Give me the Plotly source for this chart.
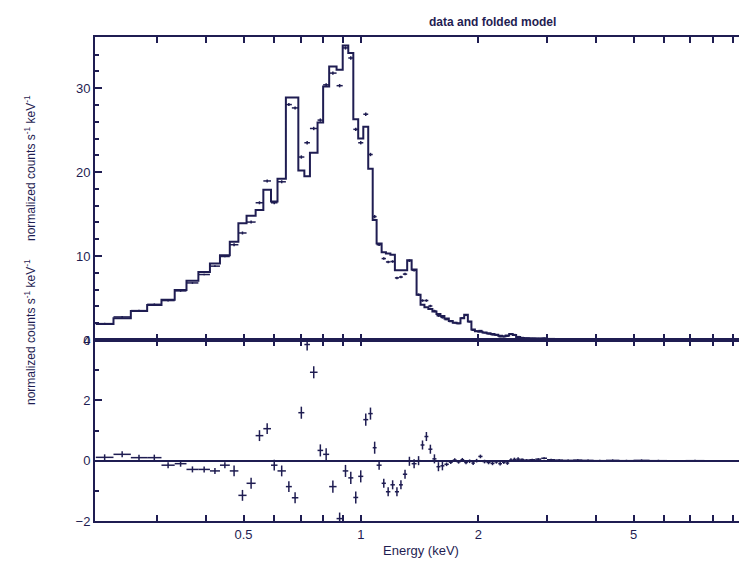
import numpy as np
import plotly.graph_objects as go

# ---------------- data ----------------
# energy bin edges (keV)
edges = [0.209, 0.232, 0.257, 0.283, 0.308, 0.333, 0.357, 0.383, 0.410, 0.435,
         0.461, 0.485, 0.509, 0.537, 0.562, 0.588, 0.611, 0.642, 0.665, 0.691,
         0.716, 0.740, 0.774, 0.800, 0.829, 0.866, 0.898, 0.928, 0.956, 0.984,
         1.014, 1.044, 1.072, 1.097, 1.130, 1.159, 1.190, 1.222, 1.252, 1.281,
         1.314, 1.349, 1.389, 1.422, 1.455, 1.489, 1.525, 1.562, 1.599, 1.637,
         1.68, 1.72, 1.76, 1.80, 1.84, 1.88, 1.92, 1.96, 2.00, 2.05,
         2.10, 2.15, 2.20, 2.25, 2.30, 2.35, 2.40, 2.45, 2.50, 2.56,
         2.62, 2.70, 2.80, 2.90, 3.00, 3.15, 3.30, 3.50, 3.70, 3.95,
         4.25, 4.60, 5.00, 5.50, 6.10, 6.80, 7.60]

# folded model (normalized counts s^-1 keV^-1)
model = [1.9, 2.6, 3.45, 4.17, 4.8, 5.95, 7.06, 8.1, 9.1, 10.1,
         11.7, 13.9, 14.8, 15.5, 17.9, 16.5, 19.2, 28.9, 28.9, 20.2,
         19.5, 22.3, 25.9, 30.2, 32.6, 32.2, 35.1, 34.2, 26.3, 24.0,
         25.4, 20.4, 14.3, 11.5, 10.45, 10.3, 10.15, 8.3, 8.3, 8.3,
         9.5, 8.4, 5.4, 4.2, 3.9, 3.7, 3.4, 3.1, 2.85,
         2.55, 2.25, 2.05, 2.0, 2.6, 3.0, 2.2, 1.25, 1.05, 0.98,
         0.9, 0.8, 0.72, 0.62, 0.5, 0.45, 0.55, 0.72, 0.6, 0.35,
         0.25, 0.2, 0.18, 0.16, 0.15, 0.13, 0.12, 0.1, 0.09, 0.08,
         0.07, 0.06, 0.05, 0.04, 0.03, 0.025, 0.02]

# observed data
data = [1.95, 2.75, 3.5, 4.25, 4.7, 5.85, 6.8, 7.8, 8.8, 9.95,
        11.35, 12.75, 14.05, 16.35, 18.95, 16.35, 18.85, 28.05, 27.65, 21.8,
        23.5, 25.2, 26.2, 30.4, 31.8, 30.3, 34.8, 33.6, 25.1, 23.5,
        26.9, 22.1, 14.7, 11.35, 9.7, 9.3, 9.35, 7.4, 7.5, 7.85,
        9.45, 8.3, 5.4, 4.7, 4.7, 4.05, 3.45, 2.9, 2.7,
        2.43, 2.2, 2.07, 1.96, 2.63, 2.94, 2.18, 1.17, 1.05, 1.12,
        0.87, 0.74, 0.63, 0.58, 0.4, 0.4, 0.47, 0.74, 0.64, 0.4,
        0.29, 0.22, 0.21, 0.21, 0.23, 0.16, 0.14, 0.11, 0.11, 0.09,
        0.07, 0.07, 0.05, 0.05, 0.03, 0.015, 0.02]

# 1-sigma errors of the data
sigma = [0.1, 0.1, 0.1, 0.1, 0.1, 0.1, 0.1, 0.1, 0.1, 0.1,
         0.18, 0.18, 0.18, 0.18, 0.18, 0.18, 0.18, 0.18, 0.18, 0.2,
         0.2, 0.2, 0.2, 0.2, 0.2, 0.2, 0.2, 0.2, 0.2, 0.2,
         0.2, 0.2, 0.2, 0.15, 0.15, 0.15, 0.15, 0.15, 0.15, 0.15,
         0.15, 0.15, 0.15, 0.15, 0.15, 0.15, 0.15, 0.15, 0.15,
         0.06, 0.06, 0.06, 0.06, 0.06, 0.06, 0.06, 0.06, 0.06, 0.06,
         0.06, 0.06, 0.06, 0.06, 0.06, 0.06, 0.06, 0.06, 0.06, 0.06,
         0.03, 0.03, 0.03, 0.03, 0.03, 0.03, 0.03, 0.03, 0.03, 0.03,
         0.03, 0.03, 0.03, 0.03, 0.03, 0.03, 0.03]

# residuals (data - model)
resid = [0.11, 0.21, 0.10, 0.10, -0.15, -0.10, -0.29, -0.29, -0.34, -0.15,
         -0.34, -1.15, -0.75, 0.83, 1.06, -0.15, -0.34, -0.86, -1.23, 1.59,
         3.85, 2.93, 0.34, 0.21, -0.86, -1.92, -0.34, -0.57, -1.22, -0.52,
         1.36, 1.56, 0.43, -0.15, -0.75, -1.03, -0.80, -1.03, -0.80, -0.45,
         -0.02, -0.10, 0.00, 0.52, 0.80, 0.38, 0.06, -0.20, -0.17,
         -0.12, -0.05, 0.02, -0.04, 0.03, -0.06, -0.02, -0.08, 0.0, 0.14,
         -0.03, -0.06, -0.09, -0.04, -0.1, -0.05, -0.08, 0.02, 0.04, 0.05,
         0.04, 0.02, 0.03, 0.05, 0.08, 0.03, 0.02, 0.01, 0.02, 0.01,
         0.0, 0.01, 0.0, 0.01, 0.0, -0.01, 0.0]

x_tick_vals = [0.5, 1, 2, 5]
x_tick_text = ["0.5", "1", "2", "5"]
x_minor_vals = [0.3, 0.4, 0.6, 0.7, 0.8, 0.9, 3, 4, 6, 7, 8, 9]
top_y_ticks = [0, 10, 20, 30]
bot_y_ticks = [-2, 0, 2, 4]

# ---------------- figure ----------------
INK = "#1f1d52"
FONT = "Liberation Sans, Arial, sans-serif"

lo = np.array(edges[:-1])
hi = np.array(edges[1:])
ctr = np.sqrt(lo * hi)

fig = go.Figure()

# model as histogram-style step line
fig.add_trace(go.Scatter(
    x=edges, y=model + [model[-1]], mode="lines", line_shape="hv",
    line=dict(color=INK, width=2), xaxis="x", yaxis="y", hoverinfo="skip",
    showlegend=False))

# data crosses
fig.add_trace(go.Scatter(
    x=ctr, y=data, mode="markers", marker=dict(size=1, color=INK),
    error_x=dict(type="data", symmetric=False, array=hi - ctr,
                 arrayminus=ctr - lo, width=0, thickness=1.5, color=INK),
    error_y=dict(type="data", array=sigma, width=0, thickness=1.5, color=INK),
    xaxis="x", yaxis="y", showlegend=False))

# residual crosses
fig.add_trace(go.Scatter(
    x=ctr, y=resid, mode="markers", marker=dict(size=1, color=INK),
    error_x=dict(type="data", symmetric=False, array=hi - ctr,
                 arrayminus=ctr - lo, width=0, thickness=1.5, color=INK),
    error_y=dict(type="data", array=sigma, width=0, thickness=1.5, color=INK),
    xaxis="x2", yaxis="y2", showlegend=False, cliponaxis=False))

# page body has an 8px margin; compensate so the plot lands where the reference has it
OFF = 8
L, R, T, B = 95 - OFF, 0, 37 - OFF, 45
W, H = 747 - OFF, 566 - OFF
plot_h = H - T - B
plot_w = W - L - R
split = 181 / plot_h

xcommon = dict(type="log", range=[np.log10(0.208), 0.99], showline=True,
               linewidth=2, linecolor=INK, mirror="ticks", ticks="inside",
               ticklen=6, tickwidth=1.5, tickcolor=INK, tickvals=x_tick_vals,
               showgrid=False, zeroline=False,
               tickfont=dict(family=FONT, size=13, color=INK),
               minor=dict(tickmode="array", tickvals=x_minor_vals,
                          ticks="inside", ticklen=6, tickwidth=1.5,
                          tickcolor=INK, showgrid=False))

fig.update_layout(
    width=W, height=H,
    margin=dict(l=L, r=R, t=T, b=B),
    paper_bgcolor="white", plot_bgcolor="white",
    xaxis=dict(**xcommon, anchor="y", showticklabels=False),
    xaxis2=dict(**xcommon, anchor="y2", matches="x", ticktext=x_tick_text,
                title=dict(text="Energy (keV)", standoff=5,
                           font=dict(family=FONT, size=13, color=INK))),
    yaxis=dict(domain=[split, 1], range=[0, 36.1], showline=True, linewidth=2,
               linecolor=INK, ticks="inside", ticklen=7, tickwidth=1.5,
               tickcolor=INK, tickvals=top_y_ticks, showgrid=False,
               zeroline=False, tickfont=dict(family=FONT, size=13, color=INK),
               minor=dict(ticks="inside", dtick=2, ticklen=4, tickcolor=INK,
                          showgrid=False)),
    yaxis2=dict(domain=[0, split], range=[-2, 4], showline=True, linewidth=2,
                linecolor=INK, ticks="inside", ticklen=7, tickwidth=1.5,
                tickcolor=INK, tickvals=bot_y_ticks, showgrid=False,
                zeroline=True, zerolinecolor=INK, zerolinewidth=2,
                tickfont=dict(family=FONT, size=13, color=INK),
                minor=dict(ticks="inside", dtick=1, ticklen=4, tickcolor=INK,
                           showgrid=False)),
)


def px_x(px):
    return (px - OFF - L) / plot_w


def px_y(py):
    return (H - B - (py - OFF)) / plot_h


ylab = "normalized counts s<sup>-1</sup> keV<sup>-1</sup>"
fig.add_annotation(text=ylab, xref="paper", yref="paper",
                   x=px_x(20), y=px_y(93), textangle=-90, showarrow=False,
                   font=dict(family=FONT, size=12, color=INK))
fig.add_annotation(text=ylab, xref="paper", yref="paper",
                   x=px_x(20), y=px_y(332), textangle=-90, showarrow=False,
                   font=dict(family=FONT, size=12, color=INK))
fig.add_annotation(text="<b>data and folded model</b>", xref="paper",
                   yref="paper", x=px_x(492), y=px_y(13), showarrow=False,
                   font=dict(family=FONT, size=12, color=INK))

fig.write_html("out.html")
